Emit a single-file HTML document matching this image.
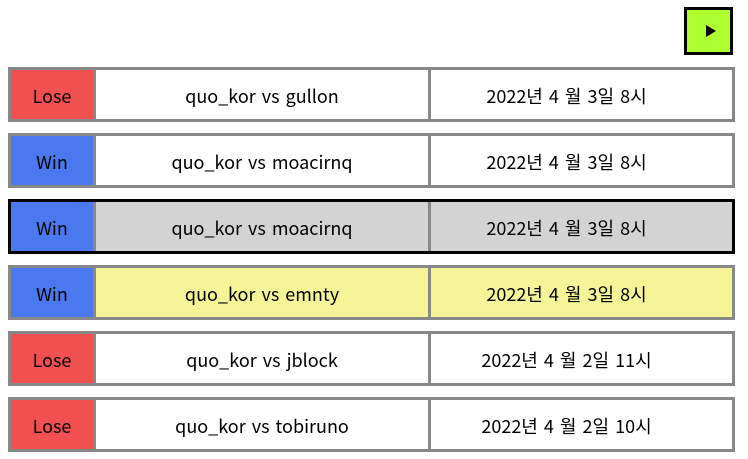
<!DOCTYPE html>
<html><head><meta charset="utf-8"><style>
body{margin:0;width:748px;height:459px;background:#fff;position:relative;overflow:hidden;font-family:"Noto Sans CJK KR",sans-serif;font-size:18px;color:#000}
.btn{position:absolute;left:684px;top:7px;width:43px;height:42px;border:3px solid #000;background:#adff2f}
.btn:after{content:"";position:absolute;left:19px;top:15px;border-left:10px solid #000;border-top:6px solid transparent;border-bottom:6px solid transparent}
.row{position:absolute;left:8px;width:721px;height:49px;border:3px solid #888;display:flex;background:#fff}
.row.sel{border-color:#000}
.c{display:flex;align-items:center;justify-content:center;height:49px;padding-top:2px;box-sizing:border-box;flex-shrink:0;word-spacing:2px;white-space:nowrap}
.res{width:82px}
.lose{background:#f05050}.win{background:#4a78ee}
.mid{width:338px;border-left:3px solid #888;border-right:3px solid #888}
.date{width:301px;padding-right:30px}
.sel .mid,.sel .date{background:#d3d3d3}
.hl .mid,.hl .date{background:#f5f597}
</style></head><body>
<div class="btn"></div>
<div class="row" style="top:67px"><div class="c res lose">Lose</div><div class="c mid">quo_kor vs gullon</div><div class="c date">2022년 4 월 3일 8시</div></div>
<div class="row" style="top:133px"><div class="c res win">Win</div><div class="c mid">quo_kor vs moacirnq</div><div class="c date">2022년 4 월 3일 8시</div></div>
<div class="row sel" style="top:199px"><div class="c res win">Win</div><div class="c mid">quo_kor vs moacirnq</div><div class="c date">2022년 4 월 3일 8시</div></div>
<div class="row hl" style="top:265px"><div class="c res win">Win</div><div class="c mid">quo_kor vs emnty</div><div class="c date">2022년 4 월 3일 8시</div></div>
<div class="row" style="top:331px"><div class="c res lose">Lose</div><div class="c mid">quo_kor vs jblock</div><div class="c date">2022년 4 월 2일 11시</div></div>
<div class="row" style="top:397px"><div class="c res lose">Lose</div><div class="c mid">quo_kor vs tobiruno</div><div class="c date">2022년 4 월 2일 10시</div></div>
</body></html>
